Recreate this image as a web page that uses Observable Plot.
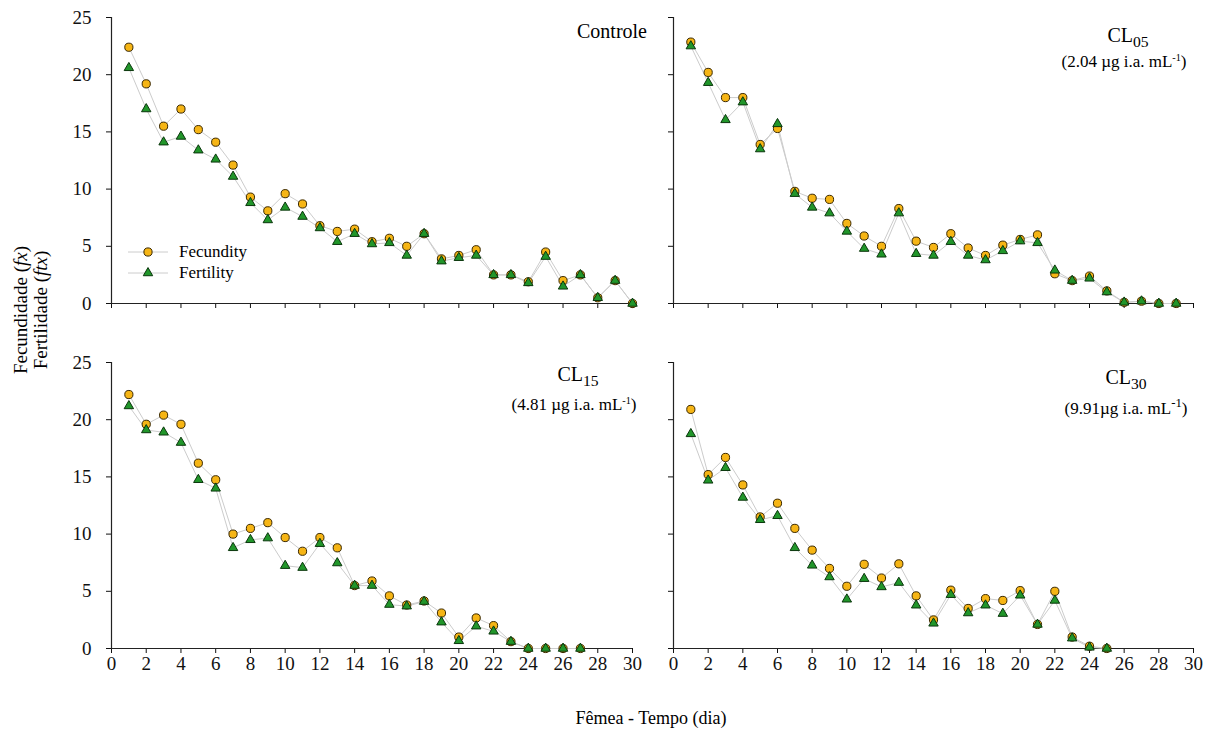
<!DOCTYPE html>
<html>
<head>
<meta charset="utf-8">
<script src="https://cdn.jsdelivr.net/npm/d3@7"></script>
<script src="https://cdn.jsdelivr.net/npm/@observablehq/plot@0.6"></script>
<style>
  body { margin: 0; background: #fff; }
  #fig { position: relative; width: 1215px; height: 731px; font-family: "Liberation Serif", serif; color: #000; overflow: hidden; }
  #fig svg, #fig svg text, #fig div, #fig span { font-family: "Liberation Serif", serif !important; }
  .panel { position: absolute; }
  .ann { position: absolute; white-space: nowrap; line-height: 1; }
  .ann sub { font-size: 0.78em; vertical-align: -0.32em; line-height: 0; }
  .ann sup { font-size: 0.6em; vertical-align: 0.55em; line-height: 0; }
  .legrow { position: absolute; display: flex; align-items: center; font-size: 17px; line-height: 1; }
</style>
</head>
<body>
<div id="fig"></div>
<script>
// ---- data ----
const days = [1,2,3,4,5,6,7,8,9,10,11,12,13,14,15,16,17,18,19,20,21,22,23,24,25,26,27,28,29,30];
const xTicks = [0,2,4,6,8,10,12,14,16,18,20,22,24,26,28,30];
const yTicks = [0,5,10,15,20,25];

const controleFecundity = [22.4,19.2,15.5,17.0,15.2,14.1,12.1,9.3,8.1,9.6,8.7,6.8,6.3,6.5,5.4,5.7,5.0,6.1,3.9,4.2,4.7,2.5,2.5,1.9,4.5,2.0,2.5,0.5,2.0,0];
const controleFertility = [20.6,17.0,14.1,14.6,13.4,12.6,11.1,8.8,7.3,8.4,7.6,6.6,5.4,6.1,5.2,5.3,4.2,6.1,3.7,4.0,4.2,2.5,2.5,1.8,4.1,1.5,2.5,0.5,2.0,0];

const cl05Fecundity = [22.85,20.2,18.0,18.0,13.9,15.3,9.8,9.2,9.1,7.0,5.9,5.0,8.3,5.45,4.9,6.1,4.85,4.2,5.1,5.6,6.0,2.6,2.0,2.4,1.1,0.1,0.2,0,0];
const cl05Fertility = [22.5,19.3,16.05,17.6,13.5,15.7,9.6,8.4,7.9,6.3,4.8,4.3,7.9,4.35,4.2,5.4,4.2,3.8,4.6,5.45,5.3,2.9,2.0,2.2,1.0,0.1,0.2,0,0];

const cl15Fecundity = [22.2,19.6,20.4,19.6,16.2,14.75,10.0,10.5,11.0,9.7,8.5,9.7,8.8,5.5,5.9,4.6,3.8,4.15,3.1,1.0,2.67,2.0,0.6,0,0,0,0];
const cl15Fertility = [21.2,19.1,18.9,18.0,14.75,14.0,8.8,9.5,9.65,7.24,7.07,9.16,7.47,5.5,5.5,3.84,3.7,4.1,2.3,0.67,1.95,1.5,0.6,0,0,0,0];

const cl30Fecundity = [20.9,15.2,16.7,14.3,11.5,12.7,10.5,8.6,7.0,5.44,7.36,6.16,7.4,4.6,2.5,5.1,3.5,4.36,4.2,5.06,2.1,5.0,1.0,0.2,0];
const cl30Fertility = [18.76,14.7,15.8,13.2,11.25,11.6,8.8,7.27,6.25,4.3,6.1,5.38,5.76,3.78,2.2,4.7,3.1,3.78,3.05,4.65,2.1,4.2,0.9,0.1,0];

const seriesNames = ["Fecundity", "Fertility"];

// ---- styles ----
const FONT = "Liberation Serif, serif";
const circleFill = "#f6b515", circleStroke = "#3a2800";
const triFill = "#21962a", triStroke = "#0a360c";
const lineColor = "#cccccc";
const circleR = 4.1, triR = 3.5;

function makeRows(fec, fer) {
  return fec.map((v, i) => ({day: days[i], fec: v, fer: fer[i]}));
}

function panel(fec, fer, {showXLabels, showYLabels, width, height, marginBottom}) {
  const rows = makeRows(fec, fer);
  return Plot.plot({
    width, height,
    marginLeft: 111, marginRight: 8, marginTop: 17, marginBottom,
    x: {domain: [0, 30]},
    y: {domain: [0, 25]},
    style: {fontFamily: FONT, fontSize: "19px", color: "#111", background: "transparent", overflow: "visible"},
    marks: [
      Plot.axisX({ticks: xTicks, tickSize: 5, tickPadding: 3, label: null,
        tickFormat: showXLabels ? (d => String(d)) : (() => ""), strokeWidth: 1}),
      Plot.axisY({ticks: yTicks, tickSize: 5, tickPadding: 15, label: null,
        tickFormat: showYLabels ? (d => String(d)) : (() => ""), strokeWidth: 1}),
      Plot.ruleX([0], {stroke: "#222", strokeWidth: 1.2}),
      Plot.ruleY([0], {stroke: "#222", strokeWidth: 1.2}),
      Plot.line(rows, {x: "day", y: "fec", stroke: lineColor, strokeWidth: 1}),
      Plot.line(rows, {x: "day", y: "fer", stroke: lineColor, strokeWidth: 1}),
      Plot.dot(rows, {x: "day", y: "fec", symbol: "circle", r: circleR, fill: circleFill, stroke: circleStroke, strokeWidth: 1}),
      Plot.dot(rows, {x: "day", y: "fer", symbol: "triangle", r: triR, fill: triFill, stroke: triStroke, strokeWidth: 1})
    ]
  });
}

const fig = document.getElementById("fig");
function place(el, left, top) {
  const d = document.createElement("div");
  d.className = "panel";
  d.style.left = left + "px";
  d.style.top = top + "px";
  d.appendChild(el);
  fig.appendChild(d);
}

place(panel(controleFecundity, controleFertility, {showXLabels: false, showYLabels: true, width: 640, height: 313, marginBottom: 10}), 0, 0);
place(panel(cl05Fecundity, cl05Fertility, {showXLabels: false, showYLabels: false, width: 639, height: 313, marginBottom: 10}), 562, 0);
place(panel(cl15Fecundity, cl15Fertility, {showXLabels: true, showYLabels: true, width: 640, height: 336, marginBottom: 33}), 0, 345);
place(panel(cl30Fecundity, cl30Fertility, {showXLabels: true, showYLabels: false, width: 639, height: 336, marginBottom: 33}), 562, 345);

// ---- annotations ----
function ann(html, {left, right, top, size, center}) {
  const d = document.createElement("div");
  d.className = "ann";
  d.innerHTML = html;
  d.style.fontSize = size + "px";
  d.style.top = top + "px";
  if (center != null) { d.style.left = (center - 200) + "px"; d.style.width = "400px"; d.style.textAlign = "center"; }
  else if (right != null) { d.style.right = right + "px"; }
  else d.style.left = left + "px";
  fig.appendChild(d);
}
ann("Controle", {right: 1215 - 647, top: 21, size: 20});
ann("CL<sub>05</sub>", {center: 1128, top: 25, size: 20});
ann("(2.04 µg i.a. mL<sup>-1</sup>)", {center: 1124, top: 53, size: 17});
ann("CL<sub>15</sub>", {center: 578, top: 364, size: 20});
ann("(4.81 µg i.a. mL<sup>-1</sup>)", {center: 574, top: 396, size: 17});
ann("CL<sub>30</sub>", {center: 1126, top: 367, size: 20});
ann("(9.91µg i.a. mL<sup style=\"font-size:0.75em\">-1</sup>)", {center: 1126, top: 400, size: 17});

// axis titles
ann("Fêmea - Tempo (dia)", {center: 651, top: 709, size: 18});
const yt = document.createElement("div");
yt.className = "ann";
yt.style.cssText = "position:absolute;left:31px;top:310px;transform:translate(-50%,-50%) rotate(-90deg);text-align:center;font-size:19px;line-height:20px;white-space:nowrap;";
yt.innerHTML = "Fecundidade (<i>fx</i>)<br>Fertilidade (<i>ftx</i>)";
fig.appendChild(yt);

// legend
function legendRow(name, symbol, top) {
  const row = document.createElement("div");
  row.className = "legrow";
  row.style.left = "126px";
  row.style.top = top + "px";
  const svg = d3.create("svg").attr("width", 44).attr("height", 14);
  svg.append("line").attr("x1", 2).attr("x2", 42).attr("y1", 7).attr("y2", 7).attr("stroke", lineColor);
  const sym = d3.symbol(symbol === "circle" ? d3.symbolCircle : d3.symbolTriangle,
    symbol === "circle" ? Math.PI * circleR * circleR : Math.PI * triR * triR)();
  svg.append("path").attr("d", sym).attr("transform", "translate(22,7)")
    .attr("fill", symbol === "circle" ? circleFill : triFill)
    .attr("stroke", symbol === "circle" ? circleStroke : triStroke);
  row.appendChild(svg.node());
  const t = document.createElement("span");
  t.textContent = name;
  t.style.marginLeft = "9px";
  row.appendChild(t);
  fig.appendChild(row);
}
legendRow(seriesNames[0], "circle", 243);
legendRow(seriesNames[1], "triangle", 264);
</script>
</body>
</html>
